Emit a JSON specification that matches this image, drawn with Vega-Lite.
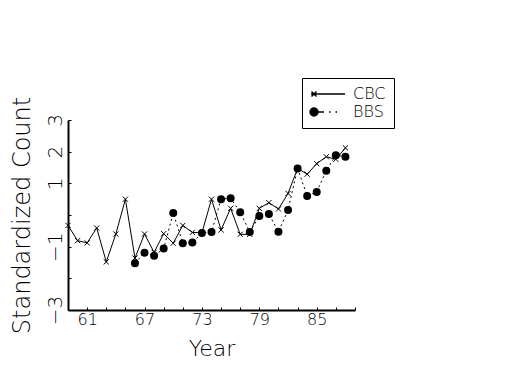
{
  "$schema": "https://vega.github.io/schema/vega-lite/v6.json",
  "autosize": "none",
  "padding": {"left": 68, "top": 120, "right": 170, "bottom": 65},
  "width": 287,
  "height": 190,
  "background": "white",
  "config": {
    "view": {"stroke": null},
    "font": "DejaVu Sans",
    "axis": {
      "grid": false,
      "domainColor": "black",
      "domainWidth": 2,
      "tickColor": "black",
      "tickWidth": 1,
      "tickSize": -3,
      "labelColor": "black",
      "titleColor": "black",
      "labelFont": "DejaVu Sans",
      "titleFont": "DejaVu Sans",
      "labelFontWeight": 200,
      "titleFontWeight": 200
    }
  },
  "data": {
    "values": [
      {"year": 59, "series": "CBC", "value": -0.33},
      {"year": 60, "series": "CBC", "value": -0.81},
      {"year": 61, "series": "CBC", "value": -0.88},
      {"year": 62, "series": "CBC", "value": -0.41},
      {"year": 63, "series": "CBC", "value": -1.48},
      {"year": 64, "series": "CBC", "value": -0.6},
      {"year": 65, "series": "CBC", "value": 0.5},
      {"year": 66, "series": "CBC", "value": -1.36},
      {"year": 67, "series": "CBC", "value": -0.6},
      {"year": 68, "series": "CBC", "value": -1.18},
      {"year": 69, "series": "CBC", "value": -0.59},
      {"year": 70, "series": "CBC", "value": -0.89},
      {"year": 71, "series": "CBC", "value": -0.33},
      {"year": 72, "series": "CBC", "value": -0.55},
      {"year": 73, "series": "CBC", "value": -0.56},
      {"year": 74, "series": "CBC", "value": 0.5},
      {"year": 75, "series": "CBC", "value": -0.47},
      {"year": 76, "series": "CBC", "value": 0.21},
      {"year": 77, "series": "CBC", "value": -0.61},
      {"year": 78, "series": "CBC", "value": -0.61},
      {"year": 79, "series": "CBC", "value": 0.21},
      {"year": 80, "series": "CBC", "value": 0.39},
      {"year": 81, "series": "CBC", "value": 0.19},
      {"year": 82, "series": "CBC", "value": 0.68},
      {"year": 83, "series": "CBC", "value": 1.47},
      {"year": 84, "series": "CBC", "value": 1.29},
      {"year": 85, "series": "CBC", "value": 1.62},
      {"year": 86, "series": "CBC", "value": 1.84},
      {"year": 87, "series": "CBC", "value": 1.76},
      {"year": 88, "series": "CBC", "value": 2.12},
      {"year": 66, "series": "BBS", "value": -1.52},
      {"year": 67, "series": "BBS", "value": -1.19},
      {"year": 68, "series": "BBS", "value": -1.29},
      {"year": 69, "series": "BBS", "value": -1.06},
      {"year": 70, "series": "BBS", "value": 0.06},
      {"year": 71, "series": "BBS", "value": -0.89},
      {"year": 72, "series": "BBS", "value": -0.87},
      {"year": 73, "series": "BBS", "value": -0.57},
      {"year": 74, "series": "BBS", "value": -0.54},
      {"year": 75, "series": "BBS", "value": 0.5},
      {"year": 76, "series": "BBS", "value": 0.53},
      {"year": 77, "series": "BBS", "value": 0.09},
      {"year": 78, "series": "BBS", "value": -0.54},
      {"year": 79, "series": "BBS", "value": -0.03},
      {"year": 80, "series": "BBS", "value": 0.03},
      {"year": 81, "series": "BBS", "value": -0.53},
      {"year": 82, "series": "BBS", "value": 0.16},
      {"year": 83, "series": "BBS", "value": 1.47},
      {"year": 84, "series": "BBS", "value": 0.6},
      {"year": 85, "series": "BBS", "value": 0.73},
      {"year": 86, "series": "BBS", "value": 1.4},
      {"year": 87, "series": "BBS", "value": 1.89},
      {"year": 88, "series": "BBS", "value": 1.84}
    ]
  },
  "encoding": {
    "x": {
      "field": "year",
      "type": "quantitative",
      "scale": {"domain": [59, 89], "nice": false, "zero": false},
      "axis": {
        "title": "Year",
        "titleFontSize": 22,
        "titlePadding": 11,
        "values": [61, 63, 65, 67, 69, 71, 73, 75, 77, 79, 81, 83, 85, 87, 89],
        "format": "d",
        "labelExpr": "(datum.value - 61) % 6 == 0 ? datum.label : ''",
        "labelFontSize": 16,
        "labelPadding": 4,
        "labelFlush": false,
        "labelOverlap": false
      }
    },
    "y": {
      "field": "value",
      "type": "quantitative",
      "scale": {"domain": [-3, 3], "nice": false, "zero": false},
      "axis": {
        "title": "Standardized Count",
        "titleFontSize": 24,
        "titlePadding": 11,
        "values": [-3, -2, -1, 0, 1, 2, 3],
        "format": "d",
        "labelExpr": "datum.value == 0 || datum.value == -2 ? '' : datum.label",
        "labelAngle": 270,
        "labelAlign": "center",
        "labelBaseline": "bottom",
        "labelFontSize": 20,
        "labelPadding": 6,
        "labelFlush": false,
        "labelOverlap": false
      }
    }
  },
  "layer": [
    {
      "transform": [{"filter": "datum.series == 'CBC'"}],
      "mark": {"type": "line", "color": "black", "strokeWidth": 1},
      "encoding": {}
    },
    {
      "transform": [{"filter": "datum.series == 'BBS'"}],
      "mark": {"type": "line", "color": "black", "strokeWidth": 1, "strokeDash": [2, 3]},
      "encoding": {}
    },
    {
      "transform": [{"filter": "datum.series == 'CBC'"}],
      "mark": {"type": "point", "color": "black", "filled": false, "strokeWidth": 1, "opacity": 1, "size": 64, "shape": "M-0.65,-0.65L0.65,0.65M-0.65,0.65L0.65,-0.65"},
      "encoding": {}
    },
    {
      "transform": [{"filter": "datum.series == 'BBS'"}],
      "mark": {"type": "point", "color": "black", "filled": true, "opacity": 1, "size": 64, "shape": "circle"},
      "encoding": {}
    },
    {
      "mark": {"type": "point", "color": "black", "filled": true, "stroke": "black", "strokeWidth": 1, "opacity": 0},
      "encoding": {
        "shape": {
          "field": "series",
          "type": "nominal",
          "scale": {
            "domain": ["CBC", "BBS"],
            "range": [
              "M-3.4,0L3.4,0M-3.3,-0.5L-2.3,0.5M-3.3,0.5L-2.3,-0.5",
              "M-2.0,0A0.8,0.8 0 1,1 -3.6,0A0.8,0.8 0 1,1 -2.0,0ZM-2,0L-0.8,0M0.2,0L0.5,0M1.5,0L1.8,0"
            ]
          },
          "legend": {
            "title": null,
            "orient": "none",
            "legendX": 234,
            "legendY": -42,
            "strokeColor": "black",
            "padding": 8,
            "labelFontSize": 16,
            "labelFont": "DejaVu Sans",
            "labelFontWeight": 200,
            "labelColor": "black",
            "symbolSize": 100,
            "symbolOpacity": 1,
            "labelOffset": 17,
            "rowPadding": 2,
            "symbolOffset": 10
          }
        }
      }
    }
  ]
}
